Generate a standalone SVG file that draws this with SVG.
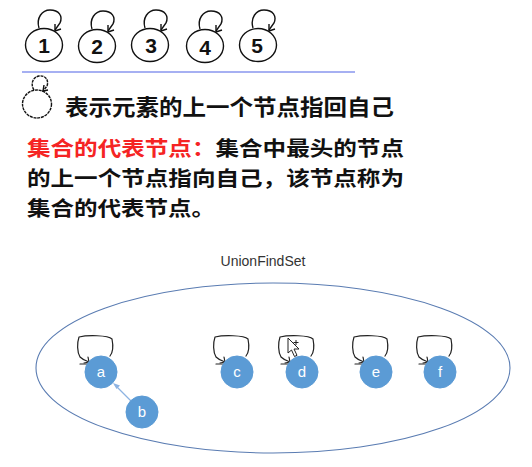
<svg xmlns="http://www.w3.org/2000/svg" width="532" height="467" viewBox="0 0 532 467">
<style>
.ring{fill:none;stroke:#111;stroke-width:1.4}
.num{font-family:"Liberation Sans",Arial,sans-serif;font-size:21px;font-weight:bold;fill:#111;text-anchor:middle}
.cjk{font-family:"Noto Sans CJK SC","Noto Sans CJK JP",sans-serif;font-size:20.6px;font-weight:bold;fill:#111}
.red{fill:#f52424}
.node{fill:#5b9bd5;stroke:#5b9bd5;stroke-width:1}
.lbl{font-family:"Liberation Sans",Arial,sans-serif;font-size:15px;fill:#fff;text-anchor:middle}
.loop{fill:none;stroke:#222;stroke-width:1.2;stroke-linecap:round;stroke-linejoin:round}
</style>
<defs>
<g id="toploop">
<path class="ring" d="M-5,28 C-8,18 -2,10 6,10 C15,10 19,16 16,23 L11,30"/>
<path class="ring" d="M11,24 L11,31 L17,29"/>
</g>
<g id="nodeloop">
<path class="loop" d="M9,-16 C13,-21 12,-28 11,-33 C7,-37 -14,-37 -22,-35 C-24,-29 -24,-20 -21,-15 C-18,-12 -15,-11 -12,-10"/>
<path class="loop" d="M-13,-15 L-12,-10 L-17,-9"/>
<path class="loop" d="M-21,-8 L-13,-8"/>
</g>
</defs>
<rect width="532" height="467" fill="#fff"/>

<g id="legend-top">
<g id="n1"><ellipse class="ring" cx="44" cy="45" rx="18.5" ry="16.5"/><use href="#toploop" transform="translate(44,0)"/><text class="num" x="44" y="53">1</text></g>
<g id="n2"><ellipse class="ring" cx="97" cy="46" rx="18.5" ry="16.5"/><use href="#toploop" transform="translate(97,1)"/><text class="num" x="97" y="54">2</text></g>
<g id="n3"><ellipse class="ring" cx="150" cy="45" rx="18.5" ry="16.5"/><use href="#toploop" transform="translate(150,0)"/><text class="num" x="151" y="53">3</text></g>
<g id="n4"><ellipse class="ring" cx="205" cy="46" rx="18.5" ry="16.5"/><use href="#toploop" transform="translate(205,1)"/><text class="num" x="205" y="55">4</text></g>
<g id="n5"><ellipse class="ring" cx="258" cy="45" rx="18.5" ry="16.5"/><use href="#toploop" transform="translate(258,0)"/><text class="num" x="257" y="53">5</text></g>
</g>
<line x1="22" y1="72" x2="355" y2="72" stroke="#4f63e6" stroke-width="1.2"/>

<g id="legend-icon">
<ellipse class="ring" cx="37" cy="104" rx="14.5" ry="14" stroke-dasharray="3 0.8"/>
<path class="ring" d="M34,90 C30,84 33,77 39,76 C46,75 49,81 47,86 L43,91" stroke-dasharray="3 0.8"/>
<path class="ring" d="M44,85 L43,91 L48,90"/>
</g>
<text class="cjk" x="65" y="115" textLength="329" lengthAdjust="spacingAndGlyphs" style="font-size:22px">表示元素的上一个节点指回自己</text>
<text class="cjk" x="27" y="155.5" textLength="377" lengthAdjust="spacingAndGlyphs"><tspan class="red">集合的代表节点：</tspan>集合中最头的节点</text>
<text class="cjk" x="27" y="185.5" textLength="377" lengthAdjust="spacingAndGlyphs">的上一个节点指向自己，该节点称为</text>
<text class="cjk" x="27" y="215.5" textLength="188" lengthAdjust="spacingAndGlyphs">集合的代表节点。</text>

<text x="263" y="266" font-family="Liberation Sans,Arial,sans-serif" font-size="14" fill="#333" text-anchor="middle">UnionFindSet</text>
<ellipse id="set" cx="273" cy="368" rx="237" ry="85" fill="none" stroke="#5a7cb2" stroke-width="1.1"/>

<g id="connectors">
<line x1="131" y1="401" x2="115" y2="385" stroke="#8db3e2" stroke-width="1.2"/>
<path d="M113,383 L120,385.5 L116.5,389 Z" fill="#8db3e2"/>
</g>

<g id="a"><use href="#nodeloop" transform="translate(101,372)"/><circle class="node" cx="101" cy="372" r="16"/><text class="lbl" x="101" y="377">a</text></g>
<g id="b"><circle class="node" cx="142" cy="412" r="16"/><text class="lbl" x="142" y="417">b</text></g>
<g id="c"><use href="#nodeloop" transform="translate(237,372)"/><circle class="node" cx="237" cy="372" r="16"/><text class="lbl" x="237" y="377">c</text></g>
<g id="d"><use href="#nodeloop" transform="translate(302,372)"/><circle class="node" cx="302" cy="372" r="16"/><text class="lbl" x="302" y="377">d</text></g>
<g id="e"><use href="#nodeloop" transform="translate(376,372)"/><circle class="node" cx="376" cy="372" r="16"/><text class="lbl" x="376" y="377">e</text></g>
<g id="f"><use href="#nodeloop" transform="translate(440,372)"/><circle class="node" cx="440" cy="372" r="16"/><text class="lbl" x="440" y="377">f</text></g>

<g id="cursor">
<path d="M288,338 L288,353 L291.5,350 L294.5,356.5 L297,355.3 L294,349 L299,349 Z" fill="#fff" stroke="#222" stroke-width="1"/>
<path d="M296,340 L296,345 M293.5,342.5 L298.5,342.5" stroke="#222" stroke-width="1"/>
</g>
</svg>
